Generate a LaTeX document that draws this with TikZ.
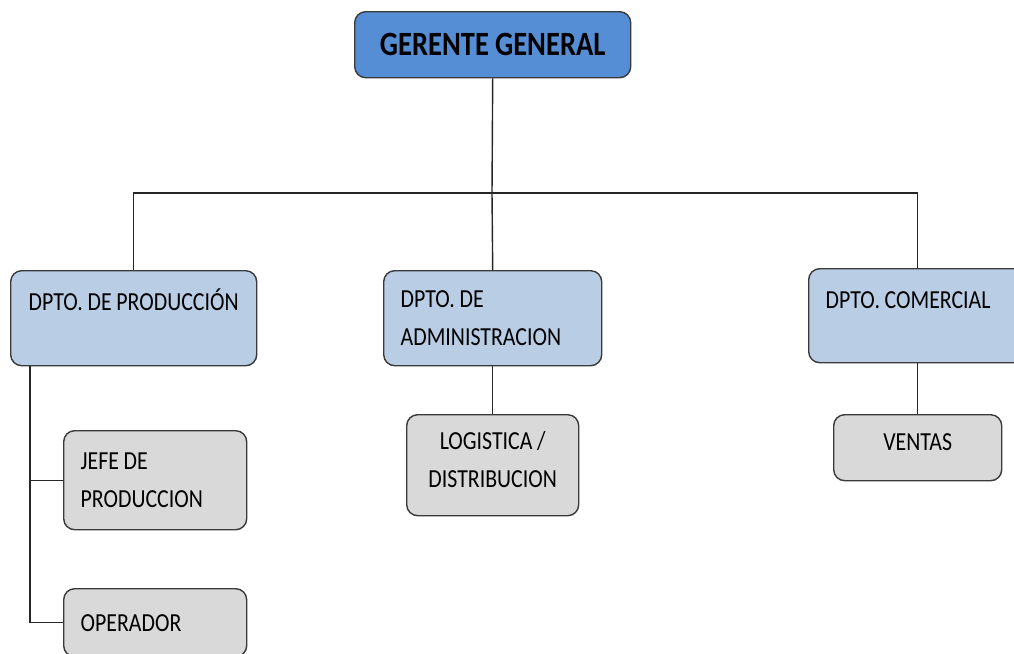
\documentclass[tikz,border=0pt]{standalone}
\usepackage{fontspec}
\setmainfont{Carlito}[FakeStretch=0.84,WordSpace={0.95,0,0}]
\usepackage[dvipsnames]{xcolor}
\definecolor{jefeazul}{HTML}{568ED5}
\definecolor{dptoazul}{HTML}{B9CDE5}
\definecolor{subgris}{HTML}{D9D9D9}
\definecolor{borde}{HTML}{3A3A3A}
\begin{document}
\begin{tikzpicture}[x=1pt,y=-1pt,
	caja/.style={draw=borde,line width=1.4pt,rounded corners=11pt,anchor=north west,inner sep=0pt},
	dpto/.style={caja,fill=dptoazul,font=\fontsize{26}{38}\selectfont,align=flush left},
	sub/.style={caja,fill=subgris,font=\fontsize{26}{38}\selectfont},
	linea/.style={draw=black!85,line width=1.4pt}]
			\useasboundingbox (0,0) rectangle (1014,653);
			\clip (0,0) rectangle (1014,653);
			\node[caja,fill=jefeazul,minimum width=276pt,minimum height=66pt,font=\fontsize{34}{40}\selectfont\bfseries] (ger) at (354,11){GERENTE GENERAL};
			\node[dpto,minimum width=246pt,minimum height=95pt,text width=210pt,text height=20pt,text depth=35pt] (prod) at (10,270){DPTO. DE PRODUCCIÓN};
			\node[dpto,minimum width=218pt,minimum height=95pt,text width=184pt] (adm) at (383,270){DPTO. DE\\ADMINISTRACION};
			\node[dpto,minimum width=218pt,minimum height=94pt,text width=184pt,text height=20pt,text depth=35pt] (com) at (808,268){DPTO. COMERCIAL};
			\node[sub,minimum width=183pt,minimum height=99pt,text width=149pt,align=flush left] (jefe) at (63,430){JEFE DE\\PRODUCCION};
			\node[sub,minimum width=183pt,minimum height=68pt,text width=149pt,align=flush left] (oper) at (63,588){OPERADOR};
			\node[sub,minimum width=172pt,minimum height=101pt,align=center,text depth=12pt] (log) at (406,414){LOGISTICA /\\DISTRIBUCION};
			\node[sub,minimum width=168pt,minimum height=66pt,align=center,text depth=12pt] (ven) at (833,414){VENTAS};
			\coordinate (bus) at (492,193);
			\coordinate (pie) at ([xshift=20pt]prod.south west);
			\draw[linea] (ger.south) -- (bus);
			\draw[linea] (prod.north) |- (bus) -| (com.north);
			\draw[linea] (bus) -- (adm.north);
			\draw[linea] (adm.south) -- (log.north);
			\draw[linea] (com.south) -- (ven.north);
			\draw[linea] (pie) |- (jefe.west);
			\draw[linea] (pie) |- (oper.west);
		\end{tikzpicture}
\end{document}
